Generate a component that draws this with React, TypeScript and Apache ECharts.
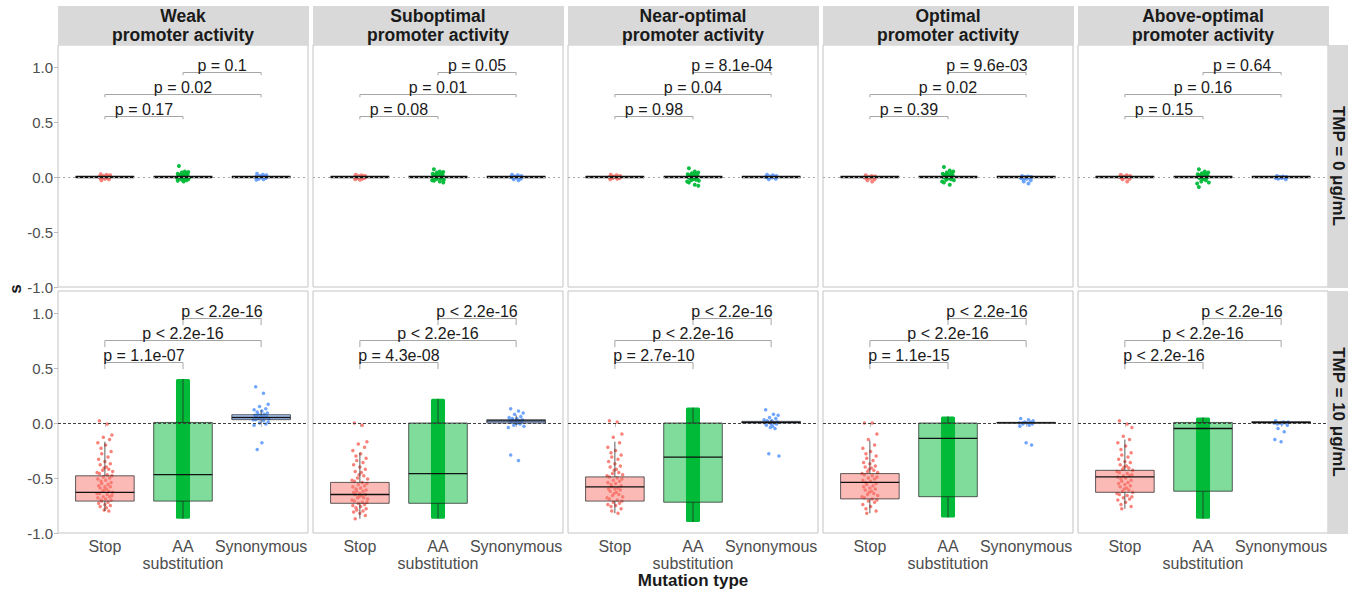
import React, { useEffect, useRef } from "react";
import * as echarts from "echarts";

const FONT = '"Liberation Sans", Arial, sans-serif';

const promoters = [
  "Weak\npromoter activity",
  "Suboptimal\npromoter activity",
  "Near-optimal\npromoter activity",
  "Optimal\npromoter activity",
  "Above-optimal\npromoter activity",
];
const tmpLevels = ["TMP = 0 μg/mL", "TMP = 10 μg/mL"];
const mutationTypes = ["Stop", "AA\nsubstitution", "Synonymous"];
const yTicks = [-1, -0.5, 0, 0.5, 1];
const xTitle = "Mutation type";
const yTitle = "s";

// box stats: [lower whisker, Q1, median, Q3, upper whisker] per promoter -> per mutation type
const boxTmp0 = [
  [[0, 0, 0, 0, 0], [0, 0, 0, 0, 0], [0, 0, 0, 0, 0]],
  [[0, 0, 0, 0, 0], [0, 0, 0, 0, 0], [0, 0, 0, 0, 0]],
  [[0, 0, 0, 0, 0], [0, 0, 0, 0, 0], [0, 0, 0, 0, 0]],
  [[0, 0, 0, 0, 0], [0, 0, 0, 0, 0], [0, 0, 0, 0, 0]],
  [[0, 0, 0, 0, 0], [0, 0, 0, 0, 0], [0, 0, 0, 0, 0]],
];
const boxTmp10 = [
  [[-0.8, -0.71, -0.63, -0.48, -0.17], [-0.87, -0.71, -0.47, 0.005, 0.4], [0.0, 0.03, 0.05, 0.075, 0.12]],
  [[-0.87, -0.73, -0.65, -0.54, -0.27], [-0.87, -0.73, -0.46, 0.0, 0.22], [-0.02, 0.0, 0.02, 0.03, 0.07]],
  [[-0.82, -0.71, -0.58, -0.49, -0.17], [-0.9, -0.72, -0.31, 0.0, 0.14], [-0.01, 0.0, 0.005, 0.015, 0.03]],
  [[-0.82, -0.69, -0.54, -0.46, -0.16], [-0.86, -0.67, -0.14, 0.0, 0.06], [0.0, 0.0, 0.002, 0.006, 0.01]],
  [[-0.78, -0.63, -0.49, -0.43, -0.15], [-0.87, -0.62, -0.05, 0.005, 0.05], [0.0, 0.0, 0.005, 0.012, 0.02]],
];

// AA substitution: thousands of jittered points forming a dense column [min, max]
const aaRangeTmp10 = [[-0.87, 0.4], [-0.87, 0.22], [-0.9, 0.14], [-0.86, 0.06], [-0.87, 0.05]];

// jittered points (y values) per promoter
const stopTmp0 = [
  [0.025, 0.02, 0.015, 0.01, 0.01, 0.005, 0.0, 0.0, 0.0, -0.005, -0.01, -0.01, -0.015, -0.02, -0.03],
  [0.02, 0.015, 0.01, 0.01, 0.005, 0.0, 0.0, -0.005, -0.01, -0.01, -0.015, -0.02, -0.025],
  [0.02, 0.015, 0.01, 0.005, 0.0, 0.0, 0.0, -0.005, -0.01, -0.01, -0.015, -0.02],
  [0.015, 0.01, 0.005, 0.0, 0.0, -0.005, -0.01, -0.015, -0.02, -0.03, -0.04],
  [0.02, 0.015, 0.01, 0.005, 0.0, 0.0, -0.005, -0.01, -0.015, -0.02, -0.04],
];
const aaTmp0 = [
  [0.1, 0.05, 0.045, 0.04, 0.035, 0.03, 0.025, 0.02, 0.02, 0.015, 0.01, 0.01, 0.005, 0.005, 0.0, 0.0, 0.0, 0.0, -0.005, -0.01, -0.01, -0.015, -0.02, -0.02, -0.025, -0.03, -0.035, -0.04],
  [0.07, 0.05, 0.045, 0.04, 0.035, 0.03, 0.025, 0.02, 0.015, 0.01, 0.01, 0.005, 0.0, 0.0, 0.0, -0.005, -0.01, -0.015, -0.02, -0.025, -0.03, -0.035, -0.04, -0.05],
  [0.08, 0.05, 0.04, 0.035, 0.03, 0.025, 0.02, 0.015, 0.01, 0.005, 0.0, 0.0, 0.0, -0.005, -0.01, -0.015, -0.02, -0.025, -0.03, -0.035, -0.04, -0.05, -0.07, -0.08],
  [0.09, 0.06, 0.05, 0.04, 0.035, 0.03, 0.025, 0.02, 0.015, 0.01, 0.005, 0.0, 0.0, 0.0, -0.005, -0.01, -0.015, -0.02, -0.025, -0.03, -0.04, -0.05, -0.07],
  [0.07, 0.05, 0.04, 0.035, 0.03, 0.025, 0.02, 0.015, 0.01, 0.005, 0.0, 0.0, 0.0, -0.005, -0.01, -0.015, -0.02, -0.03, -0.04, -0.05, -0.06, -0.09],
];
const synTmp0 = [
  [0.03, 0.02, 0.015, 0.01, 0.005, 0.0, 0.0, -0.005, -0.01, -0.015, -0.02, -0.025],
  [0.02, 0.015, 0.01, 0.005, 0.0, 0.0, -0.005, -0.01, -0.015, -0.02, -0.03],
  [0.02, 0.015, 0.01, 0.005, 0.0, 0.0, -0.005, -0.01, -0.015, -0.02],
  [0.01, 0.005, 0.0, 0.0, -0.005, -0.01, -0.015, -0.02, -0.03, -0.04, -0.06],
  [0.01, 0.005, 0.0, 0.0, -0.005, -0.01, -0.01, -0.015, -0.02],
];
const stopTmp10 = [
  [0.02, -0.01, -0.11, -0.13, -0.15, -0.18, -0.2, -0.23, -0.26, -0.28, -0.31, -0.33, -0.35, -0.37, -0.38, -0.4, -0.41, -0.42, -0.43, -0.44, -0.45, -0.46, -0.47, -0.48, -0.49, -0.5, -0.51, -0.52, -0.53, -0.54, -0.55, -0.56, -0.57, -0.58, -0.58, -0.59, -0.6, -0.61, -0.62, -0.62, -0.63, -0.64, -0.64, -0.65, -0.66, -0.67, -0.67, -0.68, -0.69, -0.7, -0.7, -0.71, -0.72, -0.73, -0.74, -0.75, -0.76, -0.77, -0.79, -0.8],
  [0.0, -0.02, -0.17, -0.19, -0.22, -0.25, -0.28, -0.3, -0.32, -0.34, -0.36, -0.38, -0.4, -0.42, -0.44, -0.45, -0.47, -0.48, -0.5, -0.51, -0.52, -0.53, -0.54, -0.55, -0.56, -0.57, -0.58, -0.59, -0.6, -0.61, -0.62, -0.62, -0.63, -0.64, -0.65, -0.65, -0.66, -0.67, -0.68, -0.68, -0.69, -0.7, -0.71, -0.72, -0.72, -0.73, -0.74, -0.75, -0.76, -0.77, -0.78, -0.79, -0.8, -0.81, -0.82, -0.84, -0.87],
  [0.02, 0.01, -0.1, -0.13, -0.18, -0.22, -0.25, -0.27, -0.29, -0.31, -0.33, -0.35, -0.37, -0.39, -0.4, -0.42, -0.43, -0.45, -0.46, -0.47, -0.48, -0.49, -0.5, -0.51, -0.52, -0.53, -0.54, -0.55, -0.56, -0.57, -0.58, -0.59, -0.6, -0.6, -0.61, -0.62, -0.63, -0.64, -0.65, -0.66, -0.67, -0.68, -0.69, -0.7, -0.71, -0.72, -0.73, -0.74, -0.75, -0.76, -0.78, -0.8, -0.82],
  [0.0, 0.0, -0.1, -0.15, -0.2, -0.23, -0.26, -0.28, -0.3, -0.32, -0.34, -0.36, -0.37, -0.39, -0.4, -0.41, -0.42, -0.43, -0.44, -0.45, -0.46, -0.47, -0.48, -0.49, -0.5, -0.51, -0.52, -0.53, -0.54, -0.55, -0.56, -0.57, -0.58, -0.59, -0.6, -0.61, -0.62, -0.63, -0.64, -0.65, -0.66, -0.67, -0.68, -0.69, -0.7, -0.71, -0.72, -0.74, -0.76, -0.78, -0.8, -0.82],
  [0.02, -0.01, -0.04, -0.12, -0.15, -0.18, -0.21, -0.24, -0.27, -0.29, -0.31, -0.33, -0.35, -0.36, -0.38, -0.39, -0.4, -0.41, -0.42, -0.43, -0.44, -0.45, -0.46, -0.47, -0.48, -0.48, -0.49, -0.5, -0.51, -0.52, -0.53, -0.54, -0.55, -0.56, -0.57, -0.58, -0.59, -0.6, -0.61, -0.62, -0.63, -0.64, -0.65, -0.66, -0.67, -0.68, -0.69, -0.7, -0.72, -0.74, -0.76, -0.78],
];
const synTmp10 = [
  [0.33, 0.27, 0.17, 0.15, 0.13, 0.12, 0.11, 0.1, 0.09, 0.08, 0.08, 0.07, 0.07, 0.06, 0.06, 0.05, 0.05, 0.05, 0.04, 0.04, 0.03, 0.03, 0.02, 0.01, 0.0, -0.01, -0.02, -0.18, -0.24],
  [0.13, 0.11, 0.09, 0.08, 0.06, 0.05, 0.04, 0.04, 0.03, 0.03, 0.02, 0.02, 0.02, 0.01, 0.01, 0.0, 0.0, -0.01, -0.02, -0.03, -0.04, -0.29, -0.34],
  [0.12, 0.08, 0.07, 0.05, 0.04, 0.03, 0.02, 0.02, 0.01, 0.01, 0.0, 0.0, -0.01, -0.01, -0.02, -0.03, -0.04, -0.05, -0.28, -0.3],
  [0.04, 0.03, 0.02, 0.01, 0.01, 0.0, 0.0, 0.0, -0.01, -0.01, -0.02, -0.03, -0.18, -0.2],
  [0.02, 0.01, 0.01, 0.0, 0.0, 0.0, -0.01, -0.01, -0.02, -0.05, -0.08, -0.15, -0.17],
];

// significance brackets: [Stop-AA, Stop-Synonymous, AA-Synonymous]
const bracketPairs = [[1, 2], [1, 3], [2, 3]];
const bracketLevels = [0.55, 0.75, 0.95];
const pTmp0 = [
  ["p = 0.17", "p = 0.02", "p = 0.1"],
  ["p = 0.08", "p = 0.01", "p = 0.05"],
  ["p = 0.98", "p = 0.04", "p = 8.1e-04"],
  ["p = 0.39", "p = 0.02", "p = 9.6e-03"],
  ["p = 0.15", "p = 0.16", "p = 0.64"],
];
const pTmp10 = [
  ["p = 1.1e-07", "p < 2.2e-16", "p < 2.2e-16"],
  ["p = 4.3e-08", "p < 2.2e-16", "p < 2.2e-16"],
  ["p = 2.7e-10", "p < 2.2e-16", "p < 2.2e-16"],
  ["p = 1.1e-15", "p < 2.2e-16", "p < 2.2e-16"],
  ["p < 2.2e-16", "p < 2.2e-16", "p < 2.2e-16"],
];

// styling / layout
const COLORS = ["#F8766D", "#00BA38", "#619CFF"];
const FILLS = ["rgba(248,118,109,0.5)", "rgba(0,186,56,0.5)", "rgba(97,156,255,0.5)"];
const JITTER = [-0.07, 0.03, 0.09, -0.02, 0.06, -0.09, 0.01, -0.05, 0.08, -0.04, 0.04, -0.08, 0.0, 0.07, -0.06, 0.02, -0.01, 0.05, -0.03, 0.1, -0.1];
const TIP = [0.025, 0.06];
const PANEL_L = 58;
const PANEL_W = 250;
const PANEL_STEP = 255;
const ROW_TOP = [45, 291];
const PANEL_H = 242;
const STRIP_TOP = 6;
const STRIP_X = 1328;
const STRIP_W = 20;

function jitterPoints(values: number[], xc: number, spread: number) {
  return values.map((v, i) => [xc + spread * JITTER[i % JITTER.length], v]);
}

function buildOption() {
  const grid: any[] = [];
  const xAxis: any[] = [];
  const yAxis: any[] = [];
  const series: any[] = [];
  const graphic: any[] = [];

  for (let r = 0; r < 2; r++) {
    for (let c = 0; c < 5; c++) {
      const gi = r * 5 + c;
      grid.push({
        left: PANEL_L + c * PANEL_STEP,
        top: ROW_TOP[r],
        width: PANEL_W,
        height: PANEL_H,
        show: true,
        borderColor: "#C4C4C4",
        borderWidth: 1,
        backgroundColor: "#FFFFFF",
      });
      xAxis.push({
        type: "value",
        gridIndex: gi,
        min: 0.4,
        max: 3.6,
        splitLine: { show: false },
        axisLine: { show: false },
        axisTick: r === 1
          ? { show: true, customValues: [1, 2, 3], length: 4, lineStyle: { color: "#BDBDBD" } }
          : { show: false },
        axisLabel: { show: false },
      });
      yAxis.push({
        type: "value",
        gridIndex: gi,
        min: -1,
        max: 1.2,
        splitLine: { show: false },
        axisLine: { show: false },
        axisTick: c === 0
          ? { show: true, customValues: yTicks, length: 4, lineStyle: { color: "#BDBDBD" } }
          : { show: false },
        axisLabel: c === 0
          ? {
              show: true,
              customValues: yTicks,
              showMinLabel: true,
              showMaxLabel: true,
              formatter: (v: number) => v.toFixed(1),
              fontSize: 15,
              color: "#4D4D4D",
              margin: 5,
              fontFamily: FONT,
            }
          : { show: false },
      });

      const stopVals = r === 0 ? stopTmp0[c] : stopTmp10[c];
      const synVals = r === 0 ? synTmp0[c] : synTmp10[c];
      const boxes = r === 0 ? boxTmp0[c] : boxTmp10[c];
      const pLabels = r === 0 ? pTmp0[c] : pTmp10[c];
      const spread = r === 0 ? 0.75 : 1;
      const ptSize = r === 0 ? 4 : 3.5;

      // Stop points + zero reference line
      series.push({
        type: "scatter",
        xAxisIndex: gi,
        yAxisIndex: gi,
        z: 2,
        symbolSize: ptSize,
        itemStyle: { color: COLORS[0], opacity: 0.9 },
        data: jitterPoints(stopVals, 1, spread),
        markLine: {
          silent: true,
          symbol: ["none", "none"],
          label: { show: false },
          lineStyle: r === 0
            ? { color: "#A8A8A8", width: 1, type: [2, 3] }
            : { color: "#404040", width: 1, type: [3, 2] },
          data: [{ yAxis: 0 }],
        },
      });
      if (r === 0) {
        series.push({
          type: "scatter",
          xAxisIndex: gi,
          yAxisIndex: gi,
          z: 2,
          symbolSize: ptSize,
          itemStyle: { color: COLORS[1], opacity: 0.95 },
          data: jitterPoints(aaTmp0[c], 2, spread),
        });
      } else {
        series.push({
          type: "custom",
          xAxisIndex: gi,
          yAxisIndex: gi,
          z: 2,
          data: [[2, aaRangeTmp10[c][0], aaRangeTmp10[c][1]]],
          encode: { x: 0, y: [1, 2] },
          renderItem: (params: any, api: any) => {
            const x = api.value(0);
            const p1 = api.coord([x - 0.09, api.value(2)]);
            const p2 = api.coord([x + 0.09, api.value(1)]);
            return {
              type: "rect",
              shape: { x: p1[0], y: p1[1], width: p2[0] - p1[0], height: p2[1] - p1[1], r: 1.5 },
              style: { fill: COLORS[1] },
            };
          },
        });
      }
      series.push({
        type: "scatter",
        xAxisIndex: gi,
        yAxisIndex: gi,
        z: 2,
        symbolSize: ptSize,
        itemStyle: { color: COLORS[2], opacity: 0.9 },
        data: jitterPoints(synVals, 3, spread),
      });

      // boxes
      series.push({
        type: "custom",
        xAxisIndex: gi,
        yAxisIndex: gi,
        z: 3,
        data: boxes.map((b, i) => [i + 1, ...b]),
        encode: { x: 0, y: [1, 2, 3, 4, 5] },
        renderItem: (params: any, api: any) => {
          const x = api.value(0);
          const lo = api.coord([x, api.value(1)]);
          const q1 = api.coord([x - 0.375, api.value(2)]);
          const med = api.coord([x - 0.375, api.value(3)]);
          const q3 = api.coord([x - 0.375, api.value(4)]);
          const hi = api.coord([x, api.value(5)]);
          const right = api.coord([x + 0.375, 0])[0];
          const idx = params.dataIndex;
          return {
            type: "group",
            children: [
              { type: "line", shape: { x1: lo[0], y1: lo[1], x2: lo[0], y2: q1[1] }, style: { stroke: "rgba(40,40,40,0.75)", lineWidth: 1 } },
              { type: "line", shape: { x1: hi[0], y1: q3[1], x2: hi[0], y2: hi[1] }, style: { stroke: "rgba(40,40,40,0.75)", lineWidth: 1 } },
              {
                type: "rect",
                shape: { x: q3[0], y: q3[1], width: right - q3[0], height: q1[1] - q3[1] },
                style: { fill: FILLS[idx], stroke: "rgba(30,30,30,0.7)", lineWidth: 1 },
              },
              { type: "line", shape: { x1: med[0], y1: med[1], x2: right, y2: med[1] }, style: { stroke: "#111111", lineWidth: r === 0 ? 2.5 : 1.3 } },
            ],
          };
        },
      });

      // x category labels (bottom row only)
      if (r === 1) {
        series.push({
          type: "custom",
          xAxisIndex: gi,
          yAxisIndex: gi,
          z: 5,
          clip: false,
          silent: true,
          data: mutationTypes.map((_, i) => [i + 1, -1]),
          encode: { x: 0, y: 1 },
          renderItem: (params: any, api: any) => {
            const p = api.coord([api.value(0), api.value(1)]);
            return {
              type: "text",
              x: p[0],
              y: p[1] + 5,
              style: {
                text: mutationTypes[params.dataIndex],
                fontSize: 16,
                lineHeight: 17,
                fontFamily: FONT,
                fill: "#4D4D4D",
                align: "center",
                verticalAlign: "top",
              },
            };
          },
        });
      }

      // significance brackets
      series.push({
        type: "custom",
        xAxisIndex: gi,
        yAxisIndex: gi,
        z: 4,
        data: bracketPairs.map((p, i) => [p[0], p[1], bracketLevels[i], TIP[r]]),
        encode: { x: [0, 1], y: 2 },
        renderItem: (params: any, api: any) => {
          const y = api.value(2);
          const tip = api.value(3);
          const a = api.coord([api.value(0), y]);
          const b = api.coord([api.value(1), y]);
          const a2 = api.coord([api.value(0), y - tip]);
          const b2 = api.coord([api.value(1), y - tip]);
          return {
            type: "group",
            children: [
              {
                type: "polyline",
                shape: { points: [a2, a, b, b2] },
                style: { stroke: "#A6A6A6", lineWidth: 1, fill: "none" },
              },
              {
                type: "text",
                x: (a[0] + b[0]) / 2,
                y: a[1] + 1,
                style: {
                  text: pLabels[params.dataIndex],
                  fontSize: 16,
                  fontFamily: FONT,
                  fill: "#1A1A1A",
                  align: "center",
                  verticalAlign: "bottom",
                },
              },
            ],
          };
        },
      });
    }
  }

  // column strips
  for (let c = 0; c < 5; c++) {
    const x = PANEL_L + c * PANEL_STEP;
    graphic.push({
      type: "rect",
      x,
      y: STRIP_TOP,
      shape: { width: PANEL_W + 1, height: ROW_TOP[0] - STRIP_TOP },
      style: { fill: "#D9D9D9" },
    });
    graphic.push({
      type: "text",
      x: x + PANEL_W / 2,
      y: (STRIP_TOP + ROW_TOP[0]) / 2,
      style: {
        text: promoters[c],
        fontSize: 17.5,
        fontWeight: "bold",
        fontFamily: FONT,
        lineHeight: 19,
        fill: "#1A1A1A",
        align: "center",
        verticalAlign: "middle",
      },
    });
  }
  // row strips
  for (let r = 0; r < 2; r++) {
    graphic.push({
      type: "rect",
      x: STRIP_X,
      y: ROW_TOP[r],
      shape: { width: STRIP_W, height: PANEL_H + 1 },
      style: { fill: "#D9D9D9" },
    });
    graphic.push({
      type: "text",
      x: STRIP_X + STRIP_W / 2,
      y: ROW_TOP[r] + PANEL_H / 2,
      rotation: -Math.PI / 2,
      style: {
        text: tmpLevels[r],
        fontSize: 17,
        fontWeight: "bold",
        fontFamily: FONT,
        fill: "#1A1A1A",
        align: "center",
        verticalAlign: "middle",
      },
    });
  }
  graphic.push({
    type: "text",
    x: PANEL_L + (4 * PANEL_STEP + PANEL_W) / 2,
    y: 580,
    style: {
      text: xTitle,
      fontSize: 17,
      fontWeight: "bold",
      fontFamily: FONT,
      fill: "#1A1A1A",
      align: "center",
      verticalAlign: "middle",
    },
  });
  graphic.push({
    type: "text",
    x: 15,
    y: 289,
    rotation: Math.PI / 2,
    style: {
      text: yTitle,
      fontSize: 17,
      fontWeight: "bold",
      fontFamily: FONT,
      fill: "#1A1A1A",
      align: "center",
      verticalAlign: "middle",
    },
  });

  return {
    animation: false,
    backgroundColor: "#FFFFFF",
    grid,
    xAxis,
    yAxis,
    series,
    graphic,
  };
}

export default function App() {
  const ref = useRef<HTMLDivElement>(null);
  useEffect(() => {
    if (!ref.current) return;
    const chart = echarts.init(ref.current, undefined, { renderer: "svg" });
    chart.setOption(buildOption());
    return () => chart.dispose();
  }, []);
  return (
    <div
      ref={ref}
      style={{ position: "absolute", left: 0, top: 0, width: 1359, height: 590, background: "#fff" }}
    />
  );
}
